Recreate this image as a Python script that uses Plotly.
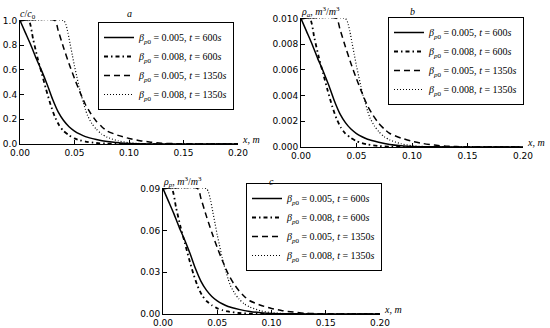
import plotly.graph_objects as go

# ---------------- data ----------------
x_ticks = [0.00, 0.05, 0.10, 0.15, 0.20]
x_tick_text = ["0.00", "0.05", "0.10", "0.15", "0.20"]

series_names = [
    "<i>β</i><sub><i>p</i>0</sub> = 0.005, <i>t</i> = 600<i>s</i>",
    "<i>β</i><sub><i>p</i>0</sub> = 0.008, <i>t</i> = 600<i>s</i>",
    "<i>β</i><sub><i>p</i>0</sub> = 0.005, <i>t</i> = 1350<i>s</i>",
    "<i>β</i><sub><i>p</i>0</sub> = 0.008, <i>t</i> = 1350<i>s</i>",
]

# x positions (m) for each series
x_s600_005 = [0, 0.005, 0.010, 0.015, 0.020, 0.025, 0.030, 0.035, 0.040, 0.045,
              0.050, 0.055, 0.060, 0.070, 0.080, 0.090, 0.100, 0.120, 0.150, 0.200]
x_s600_008 = [0, 0.008, 0.012, 0.016, 0.020, 0.024, 0.028, 0.032, 0.036, 0.040,
              0.045, 0.050, 0.055, 0.060, 0.070, 0.080, 0.090, 0.100, 0.200]
x_s1350_005 = [0, 0.032, 0.035, 0.040, 0.045, 0.050, 0.055, 0.060, 0.065, 0.070,
               0.075, 0.080, 0.090, 0.100, 0.110, 0.120, 0.130, 0.140, 0.160, 0.200]
x_s1350_008 = [0, 0.040, 0.042, 0.044, 0.046, 0.048, 0.050, 0.052, 0.054, 0.056, 0.058,
               0.060, 0.062, 0.066, 0.070, 0.075, 0.080, 0.090, 0.100, 0.110, 0.120, 0.200]

# panel a: c/c0
a_600_005 = [1.0, 0.90, 0.80, 0.69, 0.59, 0.48, 0.36, 0.26, 0.19, 0.14,
             0.105, 0.08, 0.06, 0.037, 0.02, 0.01, 0.004, 0.001, 0.0, 0.0]
a_600_008 = [1.0, 1.0, 0.85, 0.70, 0.57, 0.44, 0.32, 0.22, 0.15, 0.105,
             0.07, 0.045, 0.03, 0.02, 0.008, 0.003, 0.001, 0.0, 0.0]
a_1350_005 = [1.0, 1.0, 0.92, 0.78, 0.65, 0.53, 0.42, 0.32, 0.245, 0.185,
              0.14, 0.105, 0.07, 0.045, 0.027, 0.015, 0.007, 0.003, 0.0005, 0.0]
a_1350_008 = [1.0, 1.0, 0.97, 0.90, 0.81, 0.72, 0.63, 0.55, 0.47, 0.40, 0.34,
              0.28, 0.23, 0.165, 0.12, 0.08, 0.055, 0.025, 0.01, 0.004, 0.001, 0.0]

# panel b: rho_a
b_600_005 = [0.010, 0.0090, 0.0080, 0.0069, 0.0059, 0.0048, 0.0036, 0.0026, 0.0019, 0.0014,
             0.00105, 0.0008, 0.0006, 0.00037, 0.0002, 0.0001, 0.00004, 0.00001, 0.0, 0.0]
b_600_008 = [0.010, 0.010, 0.0085, 0.0070, 0.0057, 0.0044, 0.0032, 0.0022, 0.0015, 0.00105,
             0.0007, 0.00045, 0.0003, 0.0002, 0.00008, 0.00003, 0.00001, 0.0, 0.0]
b_1350_005 = [0.010, 0.010, 0.0092, 0.0078, 0.0065, 0.0053, 0.0042, 0.0032, 0.00245, 0.00185,
              0.0014, 0.00105, 0.0007, 0.00045, 0.00027, 0.00015, 0.00007, 0.00003, 0.000005, 0.0]
b_1350_008 = [0.010, 0.010, 0.0097, 0.0090, 0.0081, 0.0072, 0.0063, 0.0055, 0.0047, 0.0040, 0.0034,
              0.0028, 0.0023, 0.00165, 0.0012, 0.0008, 0.00055, 0.00025, 0.0001, 0.00004, 0.00001, 0.0]

# panel c: rho_p
c_600_005 = [0.09, 0.081, 0.072, 0.0621, 0.0531, 0.0432, 0.0324, 0.0234, 0.0171, 0.0126,
             0.00945, 0.0072, 0.0054, 0.00333, 0.0018, 0.0009, 0.00036, 0.00009, 0.0, 0.0]
c_600_008 = [0.09, 0.09, 0.0765, 0.063, 0.0513, 0.0396, 0.0288, 0.0198, 0.0135, 0.00945,
             0.0063, 0.00405, 0.0027, 0.0018, 0.00072, 0.00027, 0.00009, 0.0, 0.0]
c_1350_005 = [0.09, 0.09, 0.0828, 0.0702, 0.0585, 0.0477, 0.0378, 0.0288, 0.022, 0.0167,
              0.0126, 0.0095, 0.0063, 0.004, 0.0024, 0.0014, 0.0006, 0.0003, 0.00005, 0.0]
c_1350_008 = [0.09, 0.09, 0.0873, 0.081, 0.0729, 0.0648, 0.0567, 0.0495, 0.0423, 0.036, 0.0306,
              0.0252, 0.0207, 0.0149, 0.0108, 0.0072, 0.005, 0.0023, 0.0009, 0.0004, 0.0001, 0.0]

a_ticks = [0.0, 0.2, 0.4, 0.6, 0.8, 1.0]
a_tick_text = ["0.0", "0.2", "0.4", "0.6", "0.8", "1.0"]
b_ticks = [0.0, 0.002, 0.004, 0.006, 0.008, 0.010]
b_tick_text = ["0.000", "0.002", "0.004", "0.006", "0.008", "0.010"]
c_ticks = [0.0, 0.03, 0.06, 0.09]
c_tick_text = ["0.00", "0.03", "0.06", "0.09"]

panel_titles = ["a", "b", "c"]
y_labels = [
    "<i>c</i>/<i>c</i><sub>0</sub>",
    "<i>ρ<sub>a</sub></i>, <i>m</i><sup>3</sup>/<i>m</i><sup>3</sup>",
    "<i>ρ<sub>p</sub></i>, <i>m</i><sup>3</sup>/<i>m</i><sup>3</sup>",
]
x_label = "<i>x</i>, <i>m</i>"

# ---------------- figure ----------------
W, H = 550, 328
xs = [x_s600_005, x_s600_008, x_s1350_005, x_s1350_008]
panels = [
    [a_600_005, a_600_008, a_1350_005, a_1350_008],
    [b_600_005, b_600_008, b_1350_005, b_1350_008],
    [c_600_005, c_600_008, c_1350_005, c_1350_008],
]
dashes = ["solid", "4px,3px,1.5px,3px", "6px,4px", "1px,2px"]
widths = [1.5, 1.8, 1.5, 1.2]

fig = go.Figure()
axis_ids = ["", "2", "3"]
legend_ids = ["legend", "legend2", "legend3"]
for p in range(3):
    for s in range(4):
        fig.add_trace(go.Scatter(
            x=xs[s], y=panels[p][s], mode="lines", name=series_names[s],
            line=dict(color="black", width=widths[s], dash=dashes[s], shape="spline", smoothing=0.6),
            xaxis="x" + axis_ids[p], yaxis="y" + axis_ids[p],
            legend=legend_ids[p], showlegend=True,
        ))

# pixel boxes of the three panels: (left, right, top, bottom)
boxes = [(20, 238, 20, 144), (301, 523, 18, 147), (163, 380, 188, 314)]
y_ranges = [[0, 1.004], [0, 0.01004], [0, 0.0904]]
y_tickvals = [a_ticks, b_ticks, c_ticks]
y_ticktext = [a_tick_text, b_tick_text, c_tick_text]
legend_boxes = [(234, 22), (524, 17), (382, 183)]

tick_font = dict(family="DejaVu Sans", size=9, color="black")
layout = dict(
    width=W, height=H, autosize=False,
    margin=dict(l=0, r=0, t=0, b=0, autoexpand=False),
    paper_bgcolor="white", plot_bgcolor="white",
    annotations=[],
)
for p in range(3):
    l, r, t, b = boxes[p]
    layout["xaxis" + axis_ids[p]] = dict(
        domain=[l / W, r / W], range=[0, 0.2], anchor="y" + axis_ids[p],
        tickvals=x_ticks, ticktext=x_tick_text, tickfont=tick_font, automargin=False,
        showline=True, linecolor="black", linewidth=1, mirror=False,
        ticks="inside", ticklen=4, tickcolor="black", showgrid=False, zeroline=False,
    )
    layout["yaxis" + axis_ids[p]] = dict(
        domain=[1 - b / H, 1 - t / H], range=y_ranges[p], anchor="x" + axis_ids[p],
        tickvals=y_tickvals[p], ticktext=y_ticktext[p], tickfont=tick_font, automargin=False,
        showline=True, linecolor="black", linewidth=1, mirror=False,
        ticks="inside", ticklen=4, tickcolor="black", showgrid=False, zeroline=False,
    )
    lx, ly = legend_boxes[p]
    layout[legend_ids[p]] = dict(
        x=lx / W, xanchor="right", y=1 - ly / H, yanchor="top",
        bordercolor="black", borderwidth=1, bgcolor="white",
        font=dict(family="Liberation Serif", size=10, color="black"),
        itemwidth=30, tracegroupgap=0,
    )
    xr = "x" + axis_ids[p] + " domain"
    yr = "y" + axis_ids[p] + " domain"
    layout["annotations"] += [
        dict(text="<i>" + panel_titles[p] + "</i>", xref=xr, yref=yr, x=0.5, y=1,
             xanchor="center", yanchor="bottom", showarrow=False, yshift=-1,
             font=dict(family="Liberation Serif", size=10, color="black")),
        dict(text=y_labels[p], xref=xr, yref=yr, x=0, y=1,
             xanchor="left", yanchor="bottom", showarrow=False, xshift=-2, yshift=-3,
             font=dict(family="Liberation Serif", size=10, color="black")),
        dict(text=x_label, xref=xr, yref=yr, x=1, y=0,
             xanchor="left", yanchor="bottom", showarrow=False, xshift=2, yshift=-3,
             font=dict(family="Liberation Serif", size=10, color="black")),
    ]

fig.update_layout(**layout)
fig.write_html(
    "out.html",
    config={"displayModeBar": False},
    post_script="document.body.style.margin='0';document.body.style.padding='0';",
)
